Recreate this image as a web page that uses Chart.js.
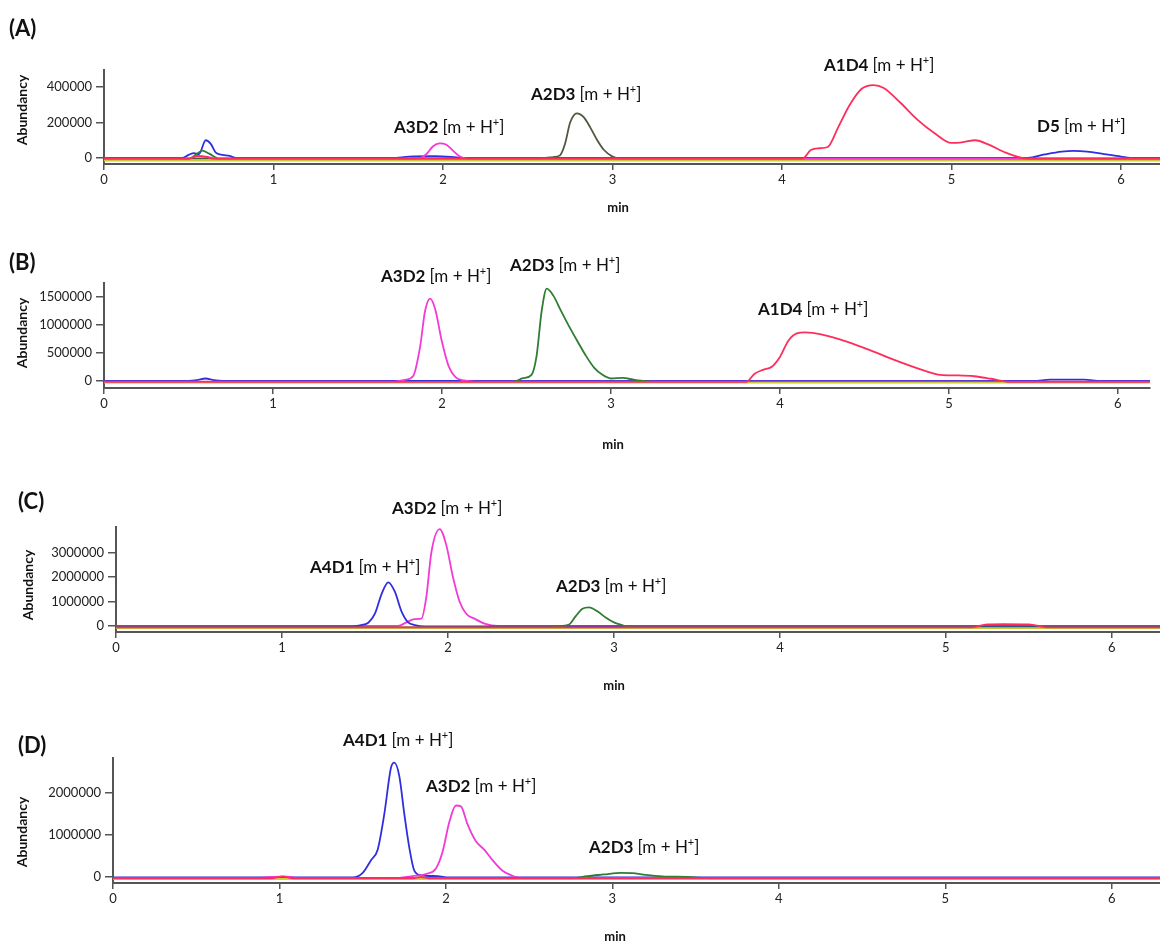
<!DOCTYPE html>
<html lang="en">
<head>
<meta charset="UTF-8">
<title>Extracted ion chromatograms</title>
<script src="https://cdn.jsdelivr.net/npm/chart.js"></script>
<style>
  body { margin: 0; background: #fff; }
  #wrap { position: relative; width: 1160px; height: 943px; }
  canvas { position: absolute; left: 0; }
</style>
</head>
<body>
<div id="wrap">
  <canvas id="panelA" width="1160" height="230" style="top:0px"></canvas>
  <canvas id="panelB" width="1160" height="240" style="top:230px"></canvas>
  <canvas id="panelC" width="1160" height="240" style="top:470px"></canvas>
  <canvas id="panelD" width="1160" height="233" style="top:710px"></canvas>
</div>
<script>
// tick labels
const minuteTicks = [0, 1, 2, 3, 4, 5, 6];
const yTicksA = [0, 200000, 400000];
const yTicksB = [0, 500000, 1000000, 1500000];
const yTicksC = [0, 1000000, 2000000, 3000000];
const yTicksD = [0, 1000000, 2000000];

// (A) retention time (min) / abundance per ion trace
const tA_blue = [0, 0.46, 0.5, 0.53, 0.56, 0.6, 0.63, 0.66, 0.7, 0.74, 0.78, 1.7, 1.8, 1.95, 2.05, 2.12, 5.45, 5.55, 5.65, 5.72, 5.8, 5.9, 6.0, 6.08, 6.23];
const yA_blue = [0, 0, 18000, 28000, 22000, 100000, 80000, 30000, 18000, 12000, 0, 0, 8000, 10000, 6000, 0, 0, 20000, 36000, 40000, 36000, 22000, 8000, 0, 0];
const tA_mag = [0, 0.5, 0.55, 0.6, 0.66, 1.85, 1.9, 1.94, 1.98, 2.02, 2.06, 2.1, 2.15, 6.23];
const yA_mag = [-3000, -3000, 12000, 8000, -3000, -3000, 20000, 65000, 82000, 75000, 40000, 8000, -3000, -3000];
const tA_grn = [0, 0.5, 0.55, 0.58, 0.62, 0.68, 6.23];
const yA_grn = [-4000, -4000, 25000, 42000, 25000, -4000, -4000];
const tA_olv = [0, 2.55, 2.65, 2.69, 2.72, 2.75, 2.79, 2.83, 2.87, 2.91, 2.95, 3.0, 3.05, 6.23];
const yA_olv = [-3000, -3000, 5000, 15000, 80000, 200000, 252000, 230000, 170000, 100000, 45000, 8000, -3000, -3000];
const tA_red = [0, 0.5, 0.55, 0.6, 0.65, 4.12, 4.17, 4.22, 4.27, 4.33, 4.4, 4.47, 4.54, 4.6, 4.7, 4.8, 4.9, 5.0, 5.07, 5.14, 5.22, 5.32, 5.45, 6.23];
const yA_red = [-4000, -4000, 10000, 6000, -4000, -4000, 45000, 55000, 62000, 170000, 300000, 390000, 411000, 395000, 310000, 215000, 140000, 85000, 90000, 100000, 75000, 30000, -4000, -4000];
const tA_yel = [0, 6.23];
const yA_yel = [-14000, -14000];

// (B)
const tB_blue = [0, 0.5, 0.55, 0.6, 0.65, 0.7, 5.5, 5.6, 5.8, 5.9, 6.19];
const yB_blue = [0, 0, 15000, 45000, 15000, 0, 0, 25000, 25000, 0, 0];
const tB_mag = [0, 1.72, 1.78, 1.83, 1.87, 1.9, 1.93, 1.96, 2.0, 2.04, 2.08, 2.13, 2.2, 6.19];
const yB_mag = [-10000, -10000, 20000, 90000, 600000, 1250000, 1470000, 1280000, 700000, 260000, 70000, 10000, -10000, -10000];
const tB_grn = [0, 2.42, 2.48, 2.53, 2.56, 2.59, 2.62, 2.66, 2.7, 2.75, 2.8, 2.85, 2.9, 2.95, 3.0, 3.07, 3.14, 3.25, 6.19];
const yB_grn = [-15000, -15000, 50000, 110000, 450000, 1250000, 1650000, 1520000, 1280000, 990000, 720000, 460000, 240000, 110000, 45000, 55000, 20000, -15000, -15000];
const tB_red = [0, 3.8, 3.85, 3.9, 3.95, 4.0, 4.05, 4.1, 4.15, 4.25, 4.4, 4.55, 4.7, 4.85, 4.95, 5.05, 5.15, 5.25, 5.36, 6.19];
const yB_red = [-15000, -15000, 130000, 200000, 250000, 430000, 720000, 850000, 870000, 830000, 700000, 530000, 350000, 190000, 110000, 100000, 85000, 40000, -15000, -15000];
const tB_yel = [0, 6.19];
const yB_yel = [-30000, -30000];

// (C)
const tC_blue = [0, 1.4, 1.47, 1.52, 1.56, 1.6, 1.64, 1.68, 1.72, 1.76, 1.8, 1.86, 6.29];
const yC_blue = [-20000, -20000, 30000, 130000, 500000, 1300000, 1780000, 1400000, 600000, 150000, 40000, -20000, -20000];
const tC_mag = [0, 1.7, 1.75, 1.8, 1.84, 1.87, 1.9, 1.95, 1.99, 2.03, 2.07, 2.11, 2.16, 2.22, 2.3, 6.29];
const yC_mag = [0, 0, 150000, 280000, 300000, 1200000, 3000000, 3950000, 3300000, 2000000, 1000000, 500000, 300000, 100000, 0, 0];
const tC_grn = [0, 2.6, 2.68, 2.73, 2.77, 2.81, 2.85, 2.9, 2.95, 3.0, 3.05, 3.1, 6.29];
const yC_grn = [-60000, -60000, 0, 60000, 400000, 700000, 760000, 600000, 350000, 150000, 40000, -60000, -60000];
const tC_red = [0, 5.15, 5.25, 5.35, 5.5, 5.62, 6.29];
const yC_red = [-60000, -60000, 70000, 80000, 70000, -60000, -60000];
const tC_yel = [0, 6.29];
const yC_yel = [-90000, -90000];

// (D)
const tD_blue = [0, 1.44, 1.5, 1.55, 1.59, 1.63, 1.67, 1.69, 1.72, 1.75, 1.78, 1.81, 1.85, 1.95, 2.02, 6.29];
const yD_blue = [-10000, -10000, 100000, 400000, 650000, 1500000, 2600000, 2720000, 2400000, 1500000, 700000, 150000, 40000, 20000, -10000, -10000];
const tD_mag = [0, 0.88, 0.95, 1.05, 1.1, 1.72, 1.8, 1.88, 1.94, 1.98, 2.02, 2.06, 2.09, 2.13, 2.18, 2.23, 2.28, 2.34, 2.4, 2.45, 6.29];
const yD_mag = [-20000, -20000, 0, 10000, -20000, -20000, 20000, 70000, 200000, 600000, 1300000, 1700000, 1680000, 1250000, 850000, 650000, 400000, 150000, 30000, -20000, -20000];
const tD_grn = [0, 2.75, 2.85, 2.95, 3.05, 3.12, 3.2, 3.3, 3.45, 3.6, 6.29];
const yD_grn = [-30000, -30000, 20000, 60000, 100000, 90000, 50000, 15000, 0, -30000, -30000];
const tD_red = [0, 0.95, 1.02, 1.08, 1.8, 1.85, 1.9, 6.29];
const yD_red = [-30000, -30000, 15000, -30000, -30000, 0, -30000, -30000];
const tD_yel = [0, 6.29];
const yD_yel = [-45000, -45000];

const BLUE = '#2f2fe0', MAGENTA = '#f23ad6', GREEN = '#2f7d32', OLIVE = '#4f5a3c', RED = '#ff2d5a', YELLOW = '#c9c93a';

// compound label: bold name followed by "[m + H+]" with superscript charge
function drawTag(ctx, name, x, y) {
  ctx.textAlign = 'left';
  ctx.font = 'bold 17px Lato';
  ctx.fillText(name, x, y);
  x += ctx.measureText(name + ' ').width;
  ctx.font = '17px Lato';
  ctx.fillText('[m + H', x, y);
  x += ctx.measureText('[m + H').width;
  ctx.font = '11px Lato';
  ctx.fillText('+', x, y - 6);
  x += ctx.measureText('+').width;
  ctx.font = '17px Lato';
  ctx.fillText(']', x, y);
}

const panelText = {
  id: 'panelText',
  afterDraw(chart, args, o) {
    const ctx = chart.ctx;
    ctx.save();
    ctx.fillStyle = '#111';
    ctx.textBaseline = 'middle';
    ctx.textAlign = 'left';
    ctx.font = 'bold 22px Lato';
    ctx.fillText(o.letter[0], o.letter[1], o.letter[2]);

    ctx.save();
    ctx.translate(o.yTitle[0], o.yTitle[1]);
    ctx.rotate(-Math.PI / 2);
    ctx.textAlign = 'center';
    ctx.font = 'bold 14px Lato';
    ctx.fillText('Abundancy', 0, 0);
    ctx.restore();

    ctx.textAlign = 'center';
    ctx.font = 'bold 13px Lato';
    ctx.fillText('min', o.xTitle[0], o.xTitle[1]);

    o.tags.forEach(t => drawTag(ctx, t[0], t[1], t[2]));
    ctx.restore();
  }
};

function trace(t, v, color, width) {
  return {
    data: t.map((x, i) => ({ x: x, y: v[i] })),
    borderColor: color,
    borderWidth: width || 1.8,
    pointRadius: 0,
    fill: false,
    cubicInterpolationMode: 'monotone'
  };
}

function makePanel(id, p) {
  new Chart(document.getElementById(id), {
    type: 'line',
    data: { datasets: p.series },
    options: {
      responsive: false,
      animation: false,
      devicePixelRatio: 1,
      layout: { padding: { top: p.top, right: p.right, bottom: p.bottom, left: 0 } },
      plugins: {
        legend: { display: false },
        tooltip: { enabled: false },
        panelText: p.text
      },
      scales: {
        x: {
          type: 'linear',
          min: 0,
          max: p.xMax,
          afterFit: s => { s.height = 30; },
          afterBuildTicks: s => { s.ticks = minuteTicks.map(v => ({ value: v })); },
          ticks: { font: { family: 'Lato', size: 13 }, color: '#222', padding: 2, callback: v => String(v) },
          grid: { drawOnChartArea: false, tickLength: 6, color: '#555', lineWidth: 1.5 },
          border: { color: '#555', width: 2 }
        },
        y: {
          min: p.yMin,
          max: p.yMax,
          afterFit: s => { s.width = p.left; },
          afterBuildTicks: s => { s.ticks = p.yTicks.map(v => ({ value: v })); },
          ticks: { font: { family: 'Lato', size: 13 }, color: '#222', padding: 4, callback: v => String(v) },
          grid: { drawOnChartArea: false, tickLength: 8, color: '#555', lineWidth: 1.5 },
          border: { color: '#555', width: 2 }
        }
      }
    },
    plugins: [panelText]
  });
}

// red goes down first so its flat baseline sits under the other traces
makePanel('panelA', {
  left: 104, top: 70, right: 0, bottom: 36,
  xMax: 6.23, yMin: -33800, yMax: 496000, yTicks: yTicksA,
  series: [
    trace(tA_red, yA_red, RED),
    trace(tA_mag, yA_mag, MAGENTA),
    trace(tA_yel, yA_yel, YELLOW),
    trace(tA_grn, yA_grn, GREEN),
    trace(tA_olv, yA_olv, OLIVE),
    trace(tA_blue, yA_blue, BLUE)
  ],
  text: {
    letter: ['(A)', 9, 29], yTitle: [22, 110], xTitle: [618, 208],
    tags: [['A3D2', 394, 128], ['A2D3', 531, 95], ['A1D4', 824, 66], ['D5', 1037, 127]]
  }
});

makePanel('panelB', {
  left: 104, top: 53, right: 10, bottom: 52,
  xMax: 6.19, yMin: -125000, yMax: 1750000, yTicks: yTicksB,
  series: [
    trace(tB_red, yB_red, RED),
    trace(tB_yel, yB_yel, YELLOW),
    trace(tB_grn, yB_grn, GREEN),
    trace(tB_mag, yB_mag, MAGENTA),
    trace(tB_blue, yB_blue, BLUE)
  ],
  text: {
    letter: ['(B)', 9, 33], yTitle: [22, 103], xTitle: [613, 215],
    tags: [['A3D2', 381, 47], ['A2D3', 510, 36], ['A1D4', 758, 80]]
  }
});

makePanel('panelC', {
  left: 116, top: 57, right: 0, bottom: 48,
  xMax: 6.29, yMin: -245000, yMax: 4040000, yTicks: yTicksC,
  series: [
    trace(tC_red, yC_red, RED),
    trace(tC_yel, yC_yel, YELLOW),
    trace(tC_grn, yC_grn, GREEN),
    trace(tC_blue, yC_blue, BLUE),
    trace(tC_mag, yC_mag, MAGENTA)
  ],
  text: {
    letter: ['(C)', 18, 32], yTitle: [28, 115], xTitle: [614, 216],
    tags: [['A4D1', 310, 98], ['A3D2', 392, 39], ['A2D3', 556, 117]]
  }
});

makePanel('panelD', {
  left: 113, top: 48, right: 0, bottom: 30,
  xMax: 6.29, yMin: -143000, yMax: 2830000, yTicks: yTicksD,
  series: [
    trace(tD_red, yD_red, RED),
    trace(tD_yel, yD_yel, YELLOW),
    trace(tD_grn, yD_grn, GREEN),
    trace(tD_mag, yD_mag, MAGENTA),
    trace(tD_blue, yD_blue, BLUE)
  ],
  text: {
    letter: ['(D)', 18, 36], yTitle: [22, 122], xTitle: [615, 227],
    tags: [['A4D1', 343, 31], ['A3D2', 426, 77], ['A2D3', 589, 138]]
  }
});
</script>
</body>
</html>
